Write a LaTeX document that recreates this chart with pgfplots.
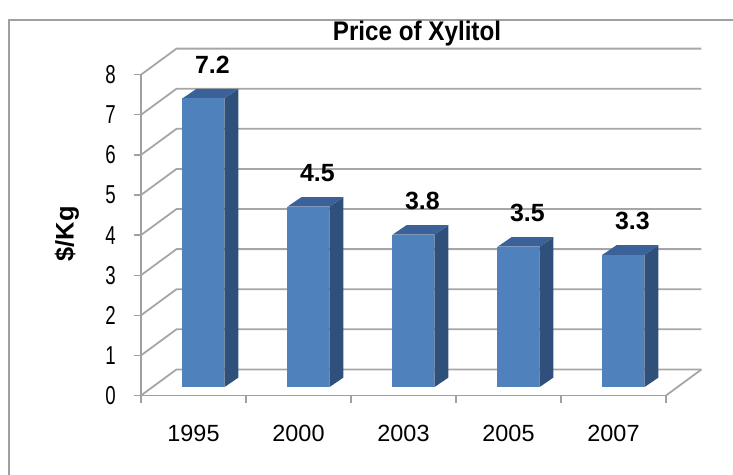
\documentclass[border=0pt]{standalone}
\usepackage{pgfplots}
\pgfplotsset{compat=1.18}
\usepackage{pgfplotstable}
\usepackage{fontspec}
\setmainfont{Liberation Sans}
\newfontfamily\narrowfont{Liberation Sans}[FakeStretch=0.72]
\newfontfamily\titlefont{Liberation Sans}[FakeStretch=0.9]

\definecolor{barfront}{HTML}{4F81BD}
\definecolor{barside}{HTML}{30507C}
\definecolor{bartop}{HTML}{3A6198}
\definecolor{gridc}{HTML}{A6A6A6}
\definecolor{framec}{HTML}{A0A0A0}

\pgfplotstableread{
x price
0 7.2
1 4.5
2 3.8
3 3.5
4 3.3
}\pricedata

\begin{document}
\begin{tikzpicture}
\begin{axis}[
  scale only axis, width=525bp, height=320.8bp,
  xmin=-0.5, xmax=4.5, ymin=0, ymax=8,
  clip=false,
  axis x line=bottom, axis y line=left,
  axis line style={draw=framec, line width=1.6bp, -},
  tick style={draw=framec, line width=1.3bp},
  tick align=outside, major tick length=7bp,
  xtick={-0.5,0.5,1.5,2.5,3.5,4.5},
  xticklabels={1995,2000,2003,2005,2007},
  x tick label as interval,
  ytick={0,1,2,3,4,5,6,7,8},
  xticklabel style={font=\fontsize{23.5}{27}\selectfont, inner sep=0pt, anchor=north, yshift=-22bp},
  yticklabel style={font=\narrowfont\fontsize{26}{30}\selectfont, inner sep=0pt, anchor=east, xshift=-18bp},
  /pgf/number format/assume math mode=true,
]
% back wall and floor
\pgfplotsinvokeforeach{0,1,2,3,4,5,6,7,8}{
  \draw[gridc, line width=1.8bp] (axis cs:-0.5,#1) -- (axis cs:-0.162,#1.65) -- (axis cs:4.838,#1.65);
}
\draw[gridc, line width=1.8bp] (axis cs:4.5,0) -- (axis cs:4.838,0.65);
% bars
\pgfplotsforeachungrouped \i in {0,...,4}{%
  \pgfplotstablegetelem{\i}{price}\of\pricedata
  \let\curval\pgfplotsretval
  \pgfmathsetmacro\xa{\i-0.105}%
  \pgfmathsetmacro\xb{\i+0.295}%
  \pgfmathsetmacro\xc{\i+0.428}%
  \pgfmathsetmacro\xd{\i+0.028}%
  \pgfmathsetmacro\yb{\curval+0.21}%
  \pgfmathsetmacro\yc{\curval+0.447}%
  \edef\barcmd{%
    \noexpand\addplot[fill=barside, draw=none, forget plot] coordinates {(\xb,0.21) (\xc,0.447) (\xc,\yc) (\xb,\yb)};
    \noexpand\addplot[fill=bartop, draw=none, forget plot] coordinates {(\xa,\yb) (\xb,\yb) (\xc,\yc) (\xd,\yc)};
    \noexpand\addplot[fill=barfront, draw=none, forget plot] coordinates {(\xa,0.21) (\xb,0.21) (\xb,\yb) (\xa,\yb)};
  }%
  \barcmd
}
% value labels
\addplot[draw=none, forget plot, point meta=explicit,
  nodes near coords={\pgfmathprintnumber[fixed,precision=1,fixed zerofill]{\pgfplotspointmeta}},
  every node near coord/.append style={anchor=center, yshift=42bp, inner sep=0pt,
    font=\fontsize{25}{30}\selectfont\bfseries}]
  table[x expr=\thisrow{x}+0.18, y=price, meta=price] {\pricedata};
\end{axis}
% outer frame, title, y label
\draw[framec, line width=1.3bp] (-132bp,-100bp) -- (-132bp,375.5bp) -- (620bp,375.5bp);
\node[font=\titlefont\fontsize{27}{32}\selectfont\bfseries, inner sep=0pt] at (276bp,362bp) {Price of Xylitol};
\node[font=\fontsize{25.5}{30}\selectfont\bfseries, rotate=90, inner sep=0pt] at (-74bp,161.5bp) {\$/Kg};
\pgfresetboundingbox
\path[use as bounding box] (-141bp,-79.5bp) rectangle (592bp,395.5bp);
\end{tikzpicture}
\end{document}
